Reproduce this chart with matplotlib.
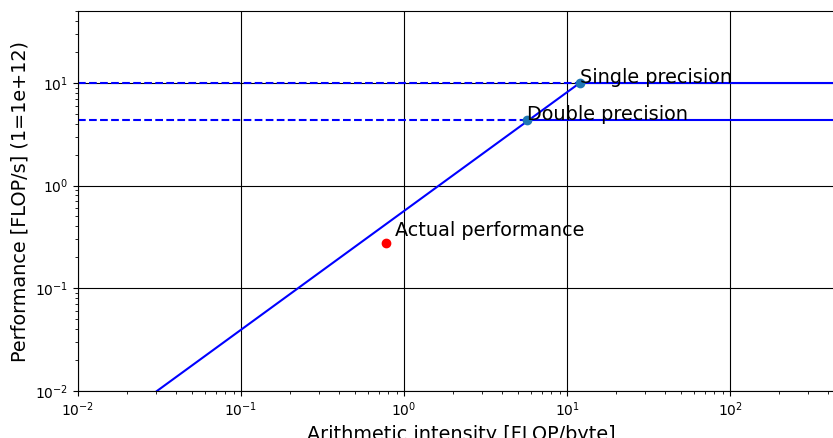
import matplotlib
matplotlib.use('Agg')
from matplotlib import pyplot as plt

# peaks in TFLOP/s and the ridge points where the roof bends
peak_labels = ['Single precision', 'Double precision']
peak_perf = [10.0, 4.3]
ridge_ai = [12.0, 5.7]

# memory bound slope
slope_ai = [0.0305, 12.0]
slope_perf = [0.01, 10.0]

actual_ai = 0.78
actual_perf = 0.275

x_min, x_max = 0.01, 500
y_min, y_max = 0.01, 50

fig = plt.figure(figsize=(8.33, 4.38), dpi=100)
ax = fig.add_axes([78/833, 47/438, (844-78)/833, 380/438])

ax.plot(slope_ai, slope_perf, color='b', lw=1.5)
for lab, p, r in zip(peak_labels, peak_perf, ridge_ai):
    ax.plot([x_min, r], [p, p], color='b', ls='--', lw=1.5)
    ax.plot([r, x_max * 2], [p, p], color='b', lw=1.5)
    ax.plot(r, p, 'o', color='C0', ms=6)
    ax.text(r, p, lab, fontsize=13.85)

ax.plot(actual_ai, actual_perf, 'ro', ms=6)
ax.text(actual_ai + 0.1, actual_perf + 0.05, 'Actual performance', fontsize=13.85)

ax.set_xscale('log')
ax.set_yscale('log')
ax.set_xlim(x_min, x_max)
ax.set_ylim(y_min, y_max)
ax.grid(True, which='major', color='k', lw=0.8)
ax.set_axisbelow(True)

ax.set_xlabel('Arithmetic intensity [FLOP/byte]', fontsize=13.85)
ax.set_ylabel('Performance [FLOP/s] (1=1e+12)', fontsize=13.85)

fig.savefig('out.png', dpi=100)
